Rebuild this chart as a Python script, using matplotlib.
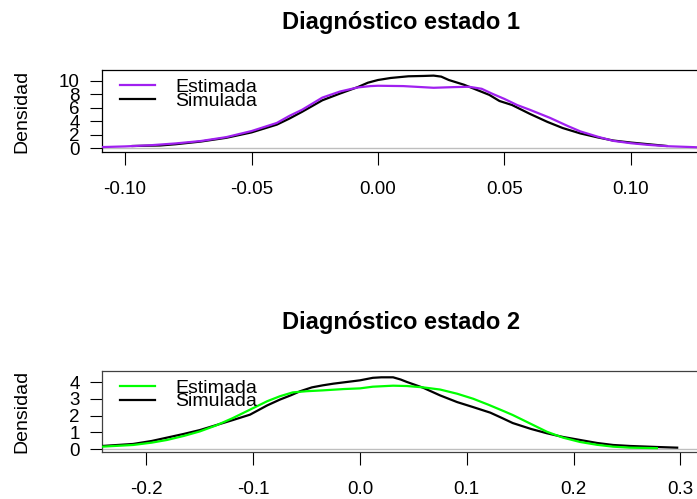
import matplotlib
matplotlib.use("Agg")
import matplotlib.pyplot as plt
from matplotlib.lines import Line2D

plt.rcParams['font.family'] = ['Liberation Sans', 'DejaVu Sans']

W, H = 697, 499

# ---------------- data ----------------
titles = ["Diagnóstico estado 1", "Diagnóstico estado 2"]
legend_labels = ["Estimada", "Simulada"]
est_colors = ["#A020F0", "#00FF00"]

est1_x = [-0.1091, -0.100, -0.090, -0.080, -0.070, -0.060, -0.050, -0.040, -0.035, -0.030,
          -0.022, -0.015, -0.008, -0.003, 0.000, 0.010, 0.022, 0.030, 0.036, 0.041,
          0.045, 0.050, 0.055, 0.060, 0.068, 0.075, 0.080, 0.087, 0.093, 0.100,
          0.107, 0.115, 0.1265]
est1_y = [0.18, 0.28, 0.45, 0.72, 1.08, 1.65, 2.55, 3.75, 4.8, 5.7,
          7.5, 8.4, 9.0, 9.2, 9.25, 9.2, 8.95, 9.05, 9.1, 8.8,
          8.1, 7.3, 6.4, 5.7, 4.5, 3.3, 2.5, 1.7, 1.1, 0.75,
          0.5, 0.3, 0.15]

sim1_x = [-0.097, -0.086, -0.080, -0.070, -0.060, -0.050, -0.040, -0.035, -0.030, -0.022,
          -0.015, -0.008, -0.004, 0.000, 0.005, 0.012, 0.018, 0.022, 0.025, 0.028,
          0.034, 0.040, 0.044, 0.048, 0.053, 0.060, 0.067, 0.073, 0.080, 0.087,
          0.093, 0.100, 0.107, 0.114]
sim1_y = [0.34, 0.42, 0.6, 1.0, 1.55, 2.35, 3.5, 4.4, 5.4, 7.1,
          8.1, 9.05, 9.7, 10.1, 10.4, 10.65, 10.7, 10.75, 10.6, 10.1,
          9.4, 8.5, 7.9, 7.0, 6.4, 5.1, 3.9, 3.0, 2.2, 1.6,
          1.15, 0.85, 0.6, 0.35]

est2_x = [-0.2416, -0.2125, -0.195, -0.1807, -0.165, -0.150, -0.135, -0.119, -0.103, -0.087,
          -0.075, -0.063, -0.050, -0.035, -0.015, 0.000, 0.012, 0.031, 0.044, 0.059,
          0.075, 0.091, 0.106, 0.120, 0.135, 0.143, 0.160, 0.175, 0.190, 0.206,
          0.222, 0.237, 0.253, 0.278]
est2_y = [0.14, 0.24, 0.38, 0.54, 0.78, 1.05, 1.4, 1.85, 2.35, 2.85,
          3.15, 3.38, 3.45, 3.5, 3.58, 3.62, 3.72, 3.78, 3.76, 3.68,
          3.55, 3.3, 3.0, 2.65, 2.25, 2.03, 1.5, 1.03, 0.68, 0.42,
          0.25, 0.14, 0.08, 0.05]

sim2_x = [-0.2416, -0.2125, -0.195, -0.1807, -0.165, -0.150, -0.135, -0.119, -0.103, -0.087,
          -0.075, -0.065, -0.056, -0.045, -0.035, -0.025, -0.010, 0.000, 0.012, 0.020,
          0.031, 0.038, 0.044, 0.059, 0.075, 0.091, 0.106, 0.122, 0.133, 0.143,
          0.160, 0.175, 0.190, 0.206, 0.222, 0.237, 0.253, 0.278, 0.297]
sim2_y = [0.18, 0.3, 0.48, 0.68, 0.9, 1.13, 1.42, 1.73, 2.05, 2.6,
          2.95, 3.2, 3.45, 3.68, 3.8, 3.9, 4.02, 4.1, 4.25, 4.28,
          4.28, 4.15, 4.0, 3.66, 3.2, 2.8, 2.5, 2.17, 1.85, 1.55,
          1.2, 0.94, 0.72, 0.54, 0.36, 0.24, 0.18, 0.12, 0.08]

xticks1 = [-0.10, -0.05, 0.00, 0.05, 0.10]
yticks1 = [0, 2, 4, 6, 8, 10]
xticks2 = [-0.2, -0.1, 0.0, 0.1, 0.2, 0.3]
yticks2 = [0, 1, 2, 3, 4]

xlim1 = (-0.1091, 0.1265)
ylim1 = (-0.547, 11.58)
xlim2 = (-0.2416, 0.3165)
ylim2 = (-0.179, 4.657)

# ---------------- layout (pixels) ----------------
fig = plt.figure(figsize=(W / 100, H / 100), dpi=100)

def px_axes(left, top, right, bottom):
    return fig.add_axes([left / W, 1 - bottom / H, (right - left) / W, (bottom - top) / H])

ax1 = px_axes(102, 70, 698, 152)
ax2 = px_axes(102, 371, 698, 452)

panels = [
    (ax1, est1_x, est1_y, sim1_x, sim1_y, xticks1, yticks1, "%.2f", xlim1, ylim1, 70, 22, "black"),
    (ax2, est2_x, est2_y, sim2_x, sim2_y, xticks2, yticks2, "%.1f", xlim2, ylim2, 371, 323, "#404040"),
]

for i, (ax, ex, ey, sx, sy, xt, yt, fmt, xl, yl, top_px, title_px, boxcol) in enumerate(panels):
    ax.axhline(0, color="#BEBEBE", lw=1.0, zorder=1)
    ax.plot(sx, sy, color="black", lw=1.6, zorder=3)
    ax.plot(ex, ey, color=est_colors[i], lw=1.6, zorder=4)
    ax.set_xlim(*xl)
    ax.set_ylim(*yl)
    ax.set_xticks(xt)
    ax.set_xticklabels([fmt % v for v in xt])
    ax.set_yticks(yt)
    ax.set_yticklabels([str(v) for v in yt])
    ax.tick_params(axis="x", length=9, width=0.8, pad=12, labelsize=13.5, direction="out")
    ax.tick_params(axis="y", length=9, width=0.8, pad=7, labelsize=13.5, direction="out")
    for s in ax.spines.values():
        s.set_color(boxcol)
        s.set_linewidth(0.9)
    ax.set_ylabel("Densidad", fontsize=14)
    ax.yaxis.set_label_coords(-(102 - 30) / 596, 0.5)
    fig.text(401 / W, 1 - title_px / H, titles[i], ha="center", va="center",
             fontsize=17, fontweight="bold")
    # legend (no frame)
    cols = [est_colors[i], "black"]
    for j in range(2):
        ly = top_px + 15 + j * 13.5
        fig.add_artist(Line2D([120 / W, 155 / W], [1 - ly / H, 1 - ly / H],
                              color=cols[j], lw=1.6, transform=fig.transFigure))
        fig.text(175 / W, 1 - (ly + 2.5) / H, legend_labels[j], ha="left", va="center",
                 fontsize=14)

fig.savefig("out.png", dpi=100)
